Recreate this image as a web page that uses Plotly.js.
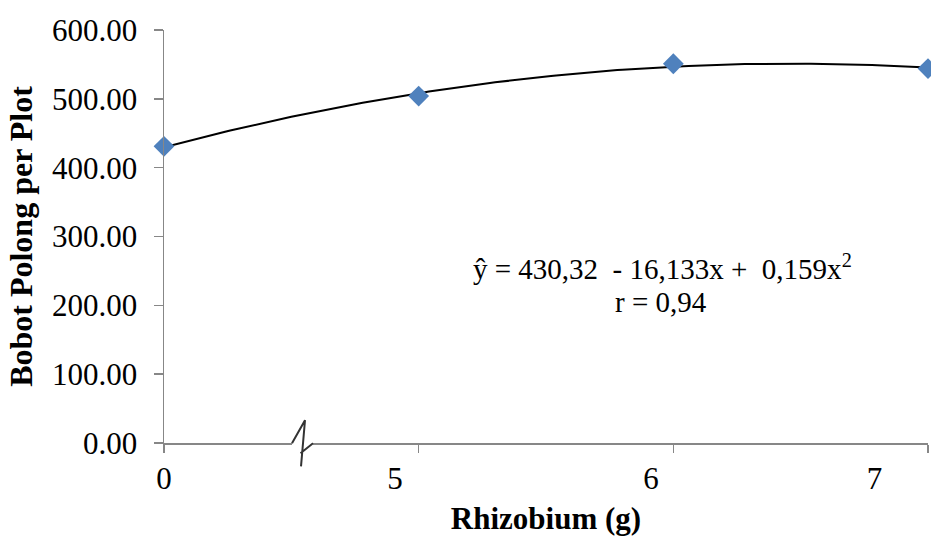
<!DOCTYPE html>
<html>
<head>
<meta charset="utf-8">
<script src="https://cdn.plot.ly/plotly-3.0.1.min.js"></script>
<style>
html, body { margin: 0; padding: 0; background: #ffffff; }
#chart { width: 931px; height: 540px; }
</style>
</head>
<body>
<div id="chart"></div>
<script>
// ---- data ----
const categories = ['0', '5', '6', '7'];          // Rhizobium (g)
const xIndex = [0, 1, 2, 3];                       // category slots on the axis
const bobotPolong = [431, 504, 551, 544];          // Bobot Polong per Plot
const yTickVals = [0, 100, 200, 300, 400, 500, 600];
const labelPos = [0, 0.907, 1.912, 2.79];          // where the category labels sit in the reference
const equationLine = 'ŷ = 430,32\u00A0\u00A0- 16,133x +\u00A0\u00A00,159x<sup>2</sup>';
const rLine = 'r = 0,94';

// ---- polynomial (order 2) trendline, least squares on the data ----
function polyfit2(xs, ys) {
  let S = [0, 0, 0, 0, 0], T = [0, 0, 0];
  for (let i = 0; i < xs.length; i++) {
    let p = 1;
    for (let k = 0; k < 5; k++) { S[k] += p; if (k < 3) T[k] += p * ys[i]; p *= xs[i]; }
  }
  const A = [[S[0], S[1], S[2], T[0]], [S[1], S[2], S[3], T[1]], [S[2], S[3], S[4], T[2]]];
  for (let c = 0; c < 3; c++) {
    for (let r = c + 1; r < 3; r++) {
      const f = A[r][c] / A[c][c];
      for (let k = c; k < 4; k++) A[r][k] -= f * A[c][k];
    }
  }
  const coef = [0, 0, 0];
  for (let r = 2; r >= 0; r--) {
    let s = A[r][3];
    for (let k = r + 1; k < 3; k++) s -= A[r][k] * coef[k];
    coef[r] = s / A[r][r];
  }
  return coef;
}
const coef = polyfit2(xIndex, bobotPolong);
const trendX = [], trendY = [];
for (let i = 0; i <= 150; i++) {
  const x = xIndex[0] + (xIndex[xIndex.length - 1] - xIndex[0]) * i / 150;
  trendX.push(x);
  trendY.push(coef[0] + coef[1] * x + coef[2] * x * x);
}

const axisGrey = '#878787';
const serif = '"Liberation Serif", "Times New Roman", Times, serif';

const traces = [
  {
    x: trendX, y: trendY, type: 'scatter', mode: 'lines',
    line: { color: '#000000', width: 2 },
    hoverinfo: 'skip', cliponaxis: false, xaxis: 'x', yaxis: 'y'
  },
  {
    x: xIndex, y: bobotPolong, type: 'scatter', mode: 'markers',
    marker: { symbol: 'diamond', size: 16, color: '#4F81BD', line: { width: 0 } },
    cliponaxis: false, xaxis: 'x2', yaxis: 'y'
  }
];

function px(p) { return (p - 164) / 764; }
function py(p) { return (442.7 - p) / 412.7; }

const layout = {
  width: 931, height: 540,
  margin: { l: 164, r: 3, t: 30, b: 97 },
  paper_bgcolor: '#ffffff', plot_bgcolor: '#ffffff',
  showlegend: false,
  font: { family: serif, color: '#000000', size: 31 },
  xaxis: {
    range: [0, 3], tickvals: xIndex, showticklabels: false,
    ticks: 'outside', ticklen: 8, tickwidth: 1.5, tickcolor: axisGrey,
    showline: true, linecolor: axisGrey, linewidth: 1.5,
    showgrid: false, zeroline: false, fixedrange: true
  },
  xaxis2: {
    overlaying: 'x', anchor: 'y', side: 'bottom',
    range: [0, 3], tickvals: labelPos, ticktext: categories,
    ticks: '', showline: false, showgrid: false, zeroline: false,
    ticklabelstandoff: 14,
    tickfont: { family: serif, size: 31, color: '#000000' },
    title: { text: '<b>Rhizobium (g)</b>', font: { family: serif, size: 31, color: '#000000' }, standoff: 12 },
    fixedrange: true
  },
  yaxis: {
    range: [0, 600], tickvals: yTickVals, tickformat: '.2f',
    ticks: 'outside', ticklen: 9, tickwidth: 1.5, tickcolor: axisGrey,
    showline: true, linecolor: axisGrey, linewidth: 1.5,
    showgrid: false, zeroline: false, fixedrange: true,
    ticklabelstandoff: 10,
    tickfont: { family: serif, size: 31, color: '#000000' },
    title: { text: '<b>Bobot Polong per Plot</b>', font: { family: serif, size: 32, color: '#000000' }, standoff: 10 }
  },
  annotations: [
    { xref: 'paper', yref: 'paper', x: px(662), y: py(267), text: equationLine, showarrow: false,
      xanchor: 'center', yanchor: 'middle', font: { family: serif, size: 29, color: '#000000' } },
    { xref: 'paper', yref: 'paper', x: px(661), y: py(302), text: rLine, showarrow: false,
      xanchor: 'center', yanchor: 'middle', font: { family: serif, size: 29, color: '#000000' } }
  ],
  shapes: [
    { type: 'rect', xref: 'paper', yref: 'paper', layer: 'above',
      x0: px(292), x1: px(313), y0: py(445), y1: py(440.5),
      fillcolor: '#ffffff', line: { width: 0 } },
    { type: 'path', xref: 'paper', yref: 'paper', layer: 'above',
      path: 'M ' + px(292) + ',' + py(443) + ' L ' + px(305) + ',' + py(420) + ' L ' + px(301) + ',' + py(466) +
            ' M ' + px(300.5) + ',' + py(453) + ' L ' + px(313) + ',' + py(443),
      line: { color: '#333333', width: 2 } }
  ]
};

Plotly.newPlot('chart', traces, layout, { displayModeBar: false, staticPlot: true });
</script>
</body>
</html>
